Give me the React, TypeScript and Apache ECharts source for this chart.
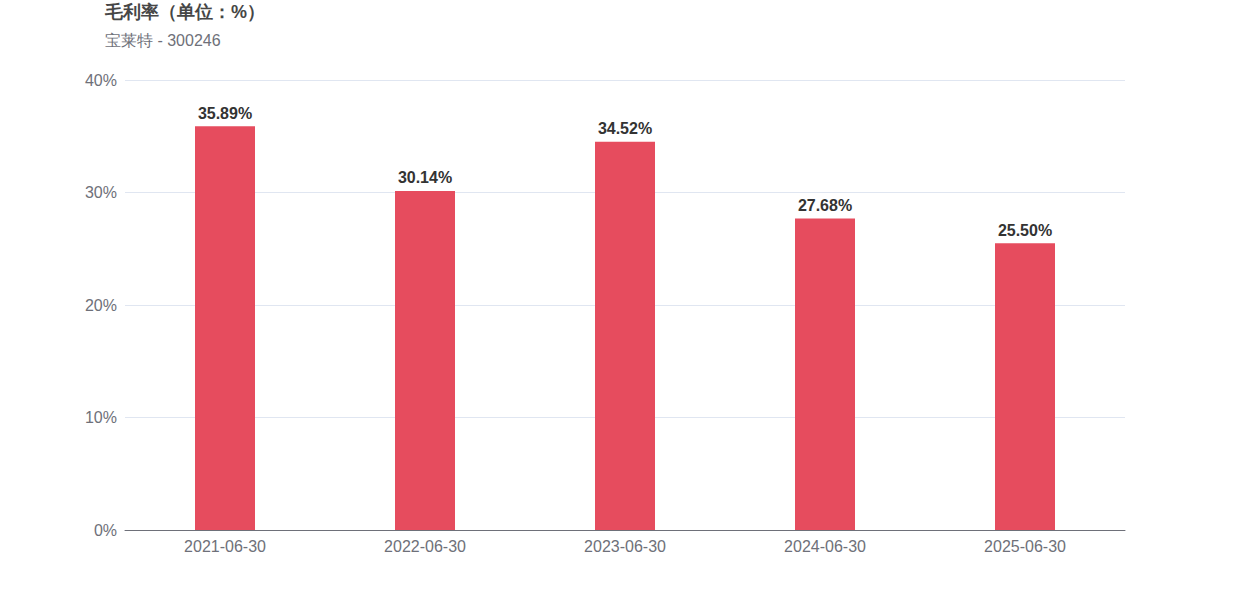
import React, { useEffect, useRef } from "react";
import * as echarts from "echarts";

const categories = ["2021-06-30", "2022-06-30", "2023-06-30", "2024-06-30", "2025-06-30"];
const grossMargin = [35.89, 30.14, 34.52, 27.68, 25.5];
const titleText = "毛利率（单位：%）";
const subText = "宝莱特 - 300246";

export default function App() {
  const ref = useRef<HTMLDivElement>(null);
  useEffect(() => {
    document.body.style.margin = "0";
    const chart = echarts.init(ref.current!, null, { renderer: "svg" });
    chart.setOption({
      animation: false,
      title: {
        text: titleText,
        subtext: subText,
        left: 100,
        top: -2,
        itemGap: 11,
        textStyle: { fontSize: 18, fontWeight: "bold", color: "#464646", fontFamily: "Liberation Sans, Arial, sans-serif" },
        subtextStyle: { fontSize: 16, color: "#6e7079", fontFamily: "Liberation Sans, Arial, sans-serif" },
      },
      grid: { left: 125, right: 125, top: 80, bottom: 70 },
      xAxis: {
        type: "category",
        data: categories,
        axisTick: { show: false },
        axisLine: { lineStyle: { color: "#6e7079" } },
        axisLabel: { fontSize: 16, color: "#6e7079", margin: 8, fontFamily: "Liberation Sans, Arial, sans-serif" },
      },
      yAxis: {
        type: "value",
        min: 0,
        max: 40,
        interval: 10,
        axisLabel: { formatter: "{value}%", fontSize: 16, color: "#6e7079", margin: 8, fontFamily: "Liberation Sans, Arial, sans-serif" },
        splitLine: { lineStyle: { color: "#e0e6f1" } },
      },
      series: [
        {
          type: "bar",
          data: grossMargin,
          barWidth: 60,
          itemStyle: { color: "#e64c5e" },
          label: {
            show: true,
            position: "top",
            formatter: (p: any) => p.value.toFixed(2) + "%",
            fontSize: 16,
            fontWeight: "bold",
            color: "#333",
            fontFamily: "Liberation Sans, Arial, sans-serif",
          },
        },
      ],
    });
    return () => chart.dispose();
  }, []);
  return <div ref={ref} style={{ width: 1250, height: 600 }} />;
}
